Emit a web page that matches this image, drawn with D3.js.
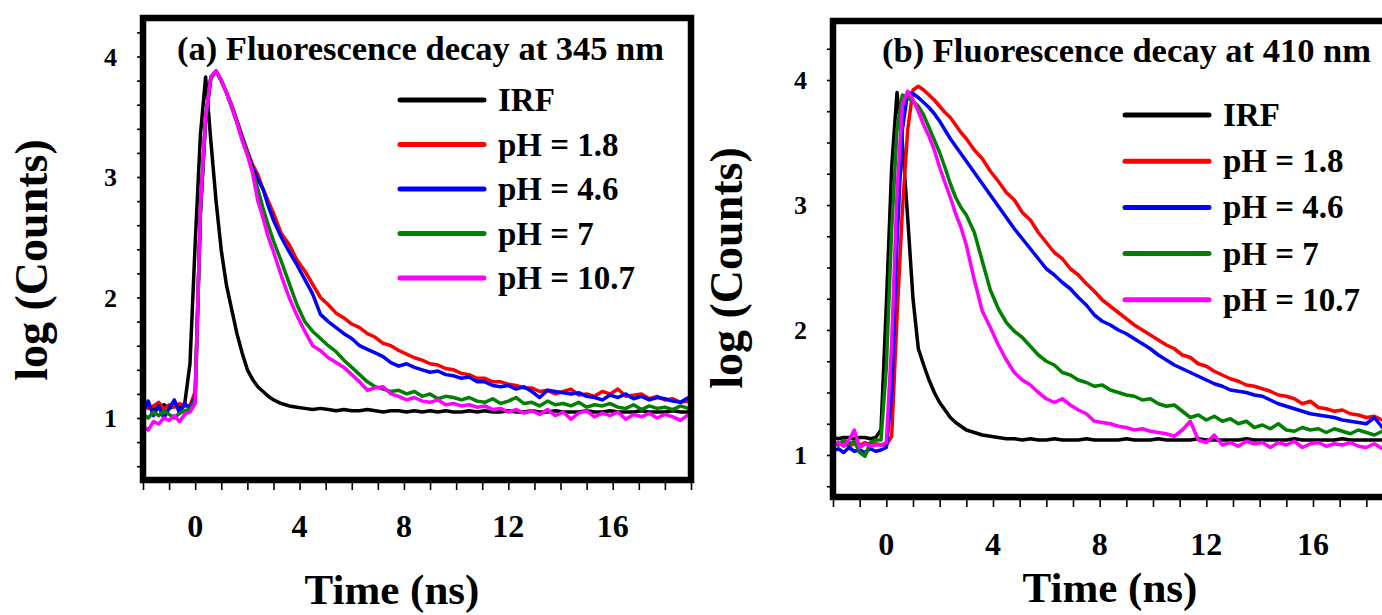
<!DOCTYPE html>
<html>
<head>
<meta charset="utf-8">
<script src="https://cdn.jsdelivr.net/npm/d3@7"></script>
<style>
  body { margin: 0; background: #fff; }
  svg { display: block; }
  text { font-family: "Liberation Serif", "Times New Roman", serif; font-weight: bold; fill: #000; }
</style>
</head>
<body>
<div id="chart"></div>
<script>
// shared time axis (ns)
const timeNs = [-2.0,-1.8,-1.6,-1.4,-1.2,-1.0,-0.8,-0.6,-0.4,-0.2,0.0,0.2,0.4,0.6,0.8,1.0,1.2,1.4,1.6,1.8,2.0,2.2,2.4,2.6,2.8,3.0,
  3.3,3.6,3.9,4.2,4.5,4.8,5.1,5.4,5.7,6.0,6.3,6.6,6.9,7.2,7.5,7.8,8.1,8.4,8.7,9.0,9.3,9.6,9.9,10.2,10.5,10.8,11.1,11.4,11.7,12.0,
  12.3,12.6,12.9,13.2,13.5,13.8,14.1,14.4,14.7,15.0,15.3,15.6,15.9,16.2,16.5,16.8,17.1,17.4,17.7,18.0,18.3,18.6,18.9];

const seriesLabels = ["IRF", "pH = 1.8", "pH = 4.6", "pH = 7", "pH = 10.7"];
const xTickLabels = [0, 4, 8, 12, 16];
const yTickLabels = [1, 2, 3, 4];

// (a) 345 nm
const irfA = [1.08,1.10,1.07,1.09,1.11,1.08,1.10,1.09,1.12,1.45,2.45,3.35,3.83,3.30,2.80,2.39,2.10,1.90,1.70,1.54,1.40,1.32,1.26,1.22,1.18,1.15,
  1.12,1.10,1.09,1.08,1.07,1.08,1.07,1.06,1.07,1.06,
  1.06,1.07,1.06,1.05,1.06,1.06,1.05,1.06,1.05,1.06,
  1.05,1.06,1.05,1.05,1.06,1.05,1.06,1.05,1.05,1.06,
  1.05,1.05,1.06,1.05,1.05,1.06,1.05,1.05,1.05,1.06,
  1.05,1.05,1.06,1.05,1.05,1.05,1.06,1.05,1.05,1.05,
  1.06,1.05,1.05];
const ph18A = [1.12,1.08,1.10,1.13,1.07,1.11,1.09,1.12,1.10,1.10,1.22,2.70,3.48,3.82,3.88,3.80,3.70,3.60,3.47,3.34,3.22,3.10,3.02,2.90,2.80,2.70,
  2.53,2.44,2.31,2.22,2.11,2.00,1.94,1.87,1.83,1.78,
  1.75,1.70,1.67,1.62,1.60,1.56,1.53,1.50,1.48,1.45,
  1.44,1.41,1.40,1.37,1.36,1.33,1.33,1.30,1.30,1.28,
  1.27,1.25,1.25,1.22,1.23,1.20,1.22,1.24,1.19,1.20,
  1.18,1.22,1.20,1.24,1.18,1.19,1.20,1.16,1.18,1.15,
  1.16,1.13,1.14];
const ph46A = [1.05,1.14,1.02,1.10,1.00,1.08,1.15,1.04,1.12,1.08,1.18,2.70,3.48,3.82,3.88,3.80,3.70,3.58,3.46,3.33,3.20,3.08,2.98,2.90,2.76,2.64,
  2.50,2.38,2.27,2.15,2.03,1.86,1.80,1.75,1.70,1.66,
  1.60,1.57,1.54,1.51,1.46,1.43,1.45,1.42,1.40,1.38,
  1.39,1.36,1.35,1.33,1.34,1.30,1.30,1.27,1.26,1.27,
  1.24,1.26,1.22,1.17,1.23,1.22,1.21,1.20,1.21,1.18,
  1.17,1.15,1.19,1.17,1.20,1.16,1.18,1.15,1.17,1.16,
  1.14,1.13,1.17];
const ph7A = [1.03,1.00,1.05,1.02,1.06,1.03,1.00,1.04,1.06,1.07,1.15,2.72,3.50,3.83,3.88,3.80,3.70,3.58,3.45,3.32,3.20,3.05,2.90,2.74,2.60,2.47,
  2.30,2.12,1.94,1.80,1.72,1.66,1.60,1.55,1.48,1.42,
  1.36,1.30,1.26,1.24,1.22,1.23,1.20,1.22,1.18,1.20,
  1.16,1.18,1.17,1.15,1.17,1.14,1.13,1.16,1.12,1.14,
  1.17,1.12,1.13,1.10,1.14,1.11,1.12,1.10,1.13,1.09,
  1.11,1.10,1.12,1.09,1.08,1.11,1.07,1.10,1.08,1.09,
  1.07,1.10,1.08];
const ph107A = [0.93,0.90,0.97,0.95,1.00,0.98,1.02,0.97,1.03,1.05,1.12,2.75,3.50,3.83,3.88,3.80,3.70,3.58,3.45,3.30,3.18,3.03,2.80,2.66,2.50,2.38,
  2.18,2.00,1.85,1.72,1.60,1.56,1.50,1.46,1.42,1.36,
  1.30,1.23,1.25,1.26,1.20,1.18,1.15,1.17,1.14,1.13,
  1.15,1.11,1.12,1.10,1.11,1.09,1.10,1.07,1.08,1.05,
  1.07,1.04,1.06,1.03,1.07,1.02,1.05,0.99,1.04,1.06,
  1.01,1.04,1.02,1.05,0.99,1.03,1.01,1.04,1.00,1.03,
  1.01,0.98,1.03];

// (b) 410 nm
const irfB = [1.14,1.13,1.14,1.14,1.13,1.14,1.14,1.13,1.14,1.20,2.20,3.30,3.90,3.50,2.90,2.25,1.85,1.72,1.60,1.50,1.42,1.36,1.30,1.26,1.23,1.20,
  1.18,1.16,1.15,1.14,1.13,1.13,1.12,1.13,1.12,1.12,
  1.13,1.12,1.12,1.12,1.13,1.12,1.12,1.12,1.12,1.13,
  1.12,1.12,1.12,1.13,1.12,1.12,1.12,1.12,1.13,1.12,
  1.12,1.12,1.12,1.12,1.13,1.12,1.12,1.12,1.12,1.12,
  1.13,1.12,1.12,1.12,1.12,1.12,1.13,1.12,1.12,1.12,
  1.12,1.12,1.12];
const ph18B = [1.10,1.08,1.10,1.07,1.09,1.08,1.10,1.08,1.09,1.08,1.08,1.15,2.10,2.95,3.60,3.92,3.95,3.92,3.88,3.84,3.79,3.74,3.70,3.64,3.58,3.53,
  3.44,3.37,3.27,3.19,3.10,3.04,2.94,2.88,2.78,2.70,
  2.62,2.57,2.49,2.44,2.37,2.31,2.24,2.19,2.14,2.09,
  2.04,2.00,1.96,1.92,1.88,1.85,1.80,1.78,1.73,1.71,
  1.67,1.64,1.61,1.59,1.56,1.55,1.53,1.51,1.48,1.47,
  1.45,1.41,1.43,1.38,1.37,1.35,1.36,1.33,1.32,1.30,
  1.31,1.28,1.29];
const ph46B = [1.03,1.05,1.02,1.06,1.03,1.04,1.02,1.05,1.03,1.04,1.06,1.50,2.70,3.60,3.90,3.89,3.86,3.82,3.78,3.73,3.67,3.60,3.53,3.47,3.41,3.35,
  3.26,3.17,3.08,2.99,2.90,2.81,2.73,2.65,2.57,2.49,
  2.44,2.38,2.33,2.26,2.20,2.12,2.07,2.04,2.00,1.97,
  1.93,1.89,1.85,1.80,1.76,1.72,1.69,1.66,1.63,1.60,
  1.57,1.55,1.52,1.51,1.50,1.48,1.47,1.44,1.41,1.39,
  1.37,1.35,1.33,1.32,1.31,1.30,1.28,1.27,1.26,1.25,
  1.30,1.22,1.23];
const ph7B = [1.10,1.08,1.12,1.09,1.11,1.02,0.99,1.10,1.12,1.12,1.70,2.80,3.60,3.88,3.86,3.83,3.79,3.72,3.62,3.52,3.42,3.30,3.17,3.06,2.98,2.92,
  2.78,2.55,2.32,2.17,2.06,1.99,1.94,1.87,1.80,1.75,
  1.72,1.66,1.64,1.60,1.58,1.55,1.56,1.52,1.50,1.48,
  1.47,1.44,1.45,1.41,1.39,1.40,1.35,1.30,1.32,1.28,
  1.31,1.27,1.29,1.25,1.27,1.22,1.24,1.21,1.25,1.20,
  1.19,1.22,1.20,1.21,1.18,1.21,1.19,1.17,1.20,1.18,
  1.16,1.19,1.18];
const ph107B = [1.08,1.10,1.07,1.12,1.20,1.06,1.09,1.07,1.08,1.08,1.10,1.90,3.10,3.80,3.91,3.84,3.75,3.64,3.55,3.44,3.30,3.18,3.06,2.93,2.82,2.68,
  2.40,2.15,2.02,1.88,1.76,1.66,1.60,1.56,1.50,1.45,
  1.42,1.45,1.40,1.36,1.33,1.27,1.26,1.25,1.23,1.22,
  1.20,1.21,1.19,1.18,1.17,1.15,1.20,1.27,1.12,1.10,
  1.16,1.08,1.10,1.07,1.11,1.09,1.10,1.06,1.10,1.08,
  1.11,1.06,1.09,1.10,1.07,1.09,1.08,1.10,1.07,1.06,
  1.09,1.05,1.08];

const colors = ["#000000", "#ff0000", "#0000ff", "#008000", "#ff00ff"];

const width = 1382, height = 615;
const svg = d3.select("#chart").append("svg")
    .attr("width", width)
    .attr("height", height);
svg.append("rect").attr("width", width).attr("height", height).attr("fill", "#fff");

function drawPanel(p, idx) {
    const x = d3.scaleLinear().domain([-2, 19]).range([p.left, p.right]);
    const y = d3.scaleLinear().domain(p.yDomain).range([p.bottom, p.top]);
    const g = svg.append("g");

    g.append("clipPath").attr("id", "clip" + idx)
        .append("rect")
        .attr("x", p.left).attr("y", p.top)
        .attr("width", p.right - p.left).attr("height", p.bottom - p.top);

    // ticks every ns on x, every yStep on y
    const xAxis = d3.axisBottom(x).tickValues(d3.range(-2, 19.01, 1)).tickSize(10).tickFormat("");
    g.append("g").attr("transform", `translate(0,${p.bottom})`).call(xAxis)
        .call(a => a.select(".domain").remove())
        .selectAll("line").attr("stroke", "#000").attr("stroke-width", 1.6);

    const yTicks = d3.range(Math.ceil(p.yDomain[0] / p.yStep) * p.yStep, p.yDomain[1], p.yStep);
    const yAxis = d3.axisLeft(y).tickValues(yTicks).tickSize(6).tickFormat("");
    g.append("g").attr("transform", `translate(${p.left},0)`).call(yAxis)
        .call(a => a.select(".domain").remove())
        .selectAll("line").attr("stroke", "#000").attr("stroke-width", 1.6);

    g.selectAll(".xlab").data(xTickLabels).enter().append("text")
        .attr("x", d => x(d)).attr("y", p.xTickY)
        .attr("text-anchor", "middle").attr("font-size", 32)
        .text(d => d);

    g.selectAll(".ylab").data(yTickLabels).enter().append("text")
        .attr("x", p.yTickX).attr("y", d => y(d) + 9)
        .attr("text-anchor", "end").attr("font-size", 26)
        .text(d => d);

    // decay curves
    const line = d3.line().x((d, i) => x(timeNs[i])).y(d => y(d));
    const curves = g.append("g").attr("clip-path", `url(#clip${idx})`);
    p.series.forEach((s, i) => {
        curves.append("path")
            .attr("d", line(s))
            .attr("fill", "none")
            .attr("stroke", colors[i])
            .attr("stroke-width", 3.5)
            .attr("stroke-linejoin", "round");
    });

    // frame
    g.append("rect")
        .attr("x", p.left).attr("y", p.top)
        .attr("width", p.right - p.left).attr("height", p.bottom - p.top)
        .attr("fill", "none").attr("stroke", "#000").attr("stroke-width", 6.5);

    g.append("text")
        .attr("x", p.titleX).attr("y", p.titleY)
        .attr("font-size", 34.5)
        .text(p.title);

    // legend
    const leg = g.append("g");
    seriesLabels.forEach((lab, i) => {
        const ly = p.legY + i * p.legGap;
        leg.append("line")
            .attr("x1", p.legX).attr("x2", p.legX + 84)
            .attr("y1", ly).attr("y2", ly)
            .attr("stroke", colors[i]).attr("stroke-width", 5).attr("stroke-linecap", "round");
        leg.append("text")
            .attr("x", p.legX + 98).attr("y", ly + 11)
            .attr("font-size", 33)
            .text(lab);
    });

    g.append("text")
        .attr("transform", `translate(${p.yLabX},${p.yLabY}) rotate(-90)`)
        .attr("text-anchor", "middle").attr("font-size", 46)
        .text("log (Counts)");

    g.append("text")
        .attr("x", p.xLabX).attr("y", p.xLabY)
        .attr("text-anchor", "middle").attr("font-size", 43)
        .text("Time (ns)");
}

drawPanel({
    left: 143, right: 691, top: 18, bottom: 480,
    yDomain: [0.4855, 4.3195], yStep: 0.2,
    title: "(a) Fluorescence decay at 345 nm", titleX: 177, titleY: 60,
    legX: 400, legY: 100, legGap: 44.5,
    yTickX: 117, xTickY: 537,
    yLabX: 47, yLabY: 260, xLabX: 392, xLabY: 604,
    series: [irfA, ph18A, ph46A, ph7A, ph107A]
}, 0);

drawPanel({
    left: 833, right: 1393, top: 21, bottom: 497,
    yDomain: [0.664, 4.472], yStep: 0.25,
    title: "(b) Fluorescence decay at 410 nm", titleX: 882, titleY: 62,
    legX: 1125, legY: 115, legGap: 46.2,
    yTickX: 807, xTickY: 555,
    yLabX: 742, yLabY: 268, xLabX: 1110, xLabY: 602,
    series: [irfB, ph18B, ph46B, ph7B, ph107B]
}, 1);
</script>
</body>
</html>
